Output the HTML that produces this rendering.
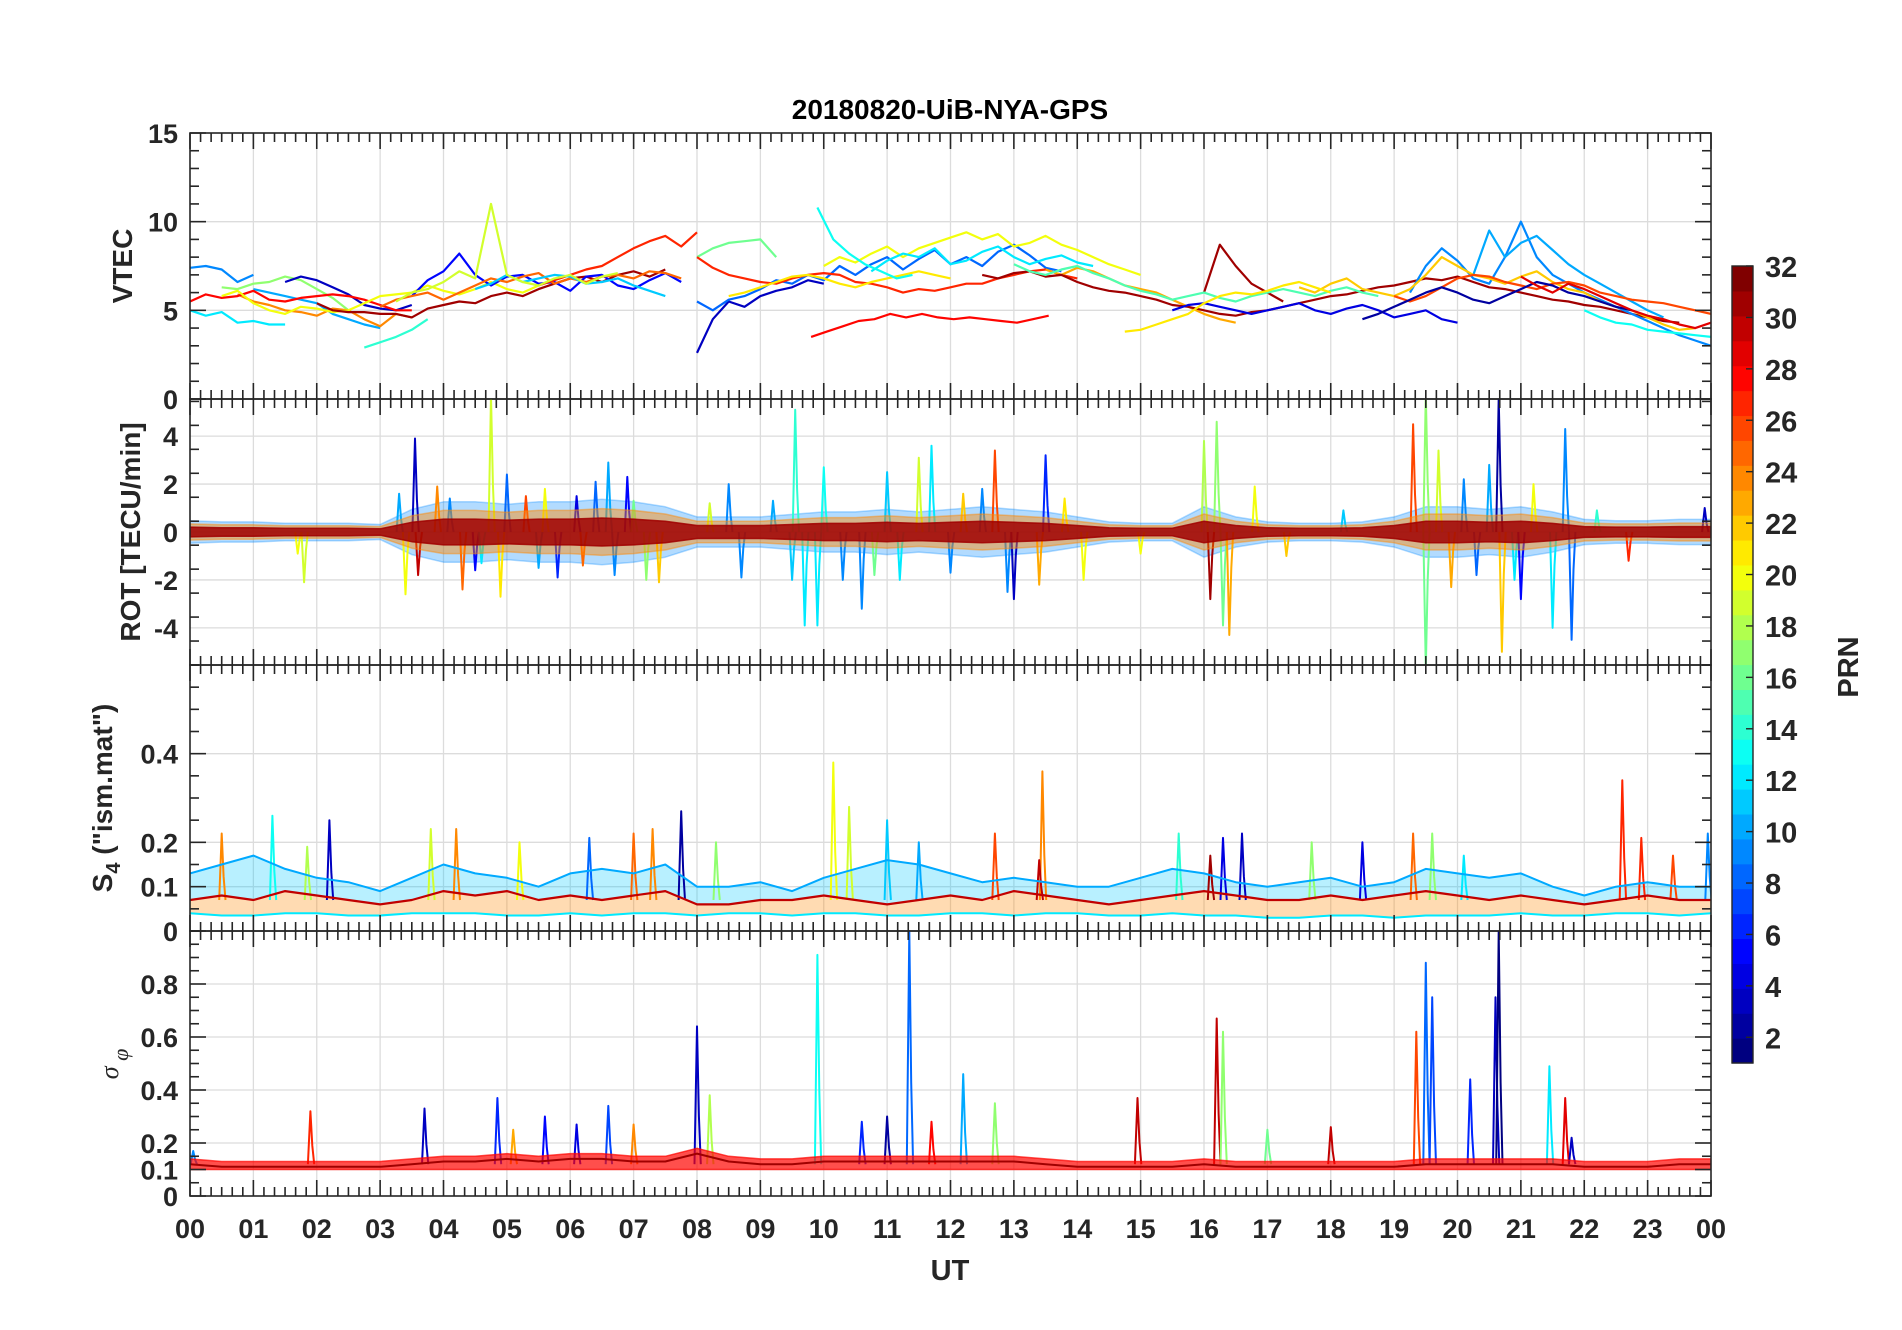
<!DOCTYPE html>
<html><head><meta charset="utf-8"><style>
html,body{margin:0;padding:0;background:#fff;}
svg{display:block;font-family:"Liberation Sans",Arial,sans-serif;}
</style></head><body>
<svg id="fig" width="1902" height="1330" viewBox="0 0 1902 1330" xmlns="http://www.w3.org/2000/svg">
<text x="950" y="119" text-anchor="middle" font-size="28" font-weight="bold" fill="#000">20180820-UiB-NYA-GPS</text>
<g id="panels"></g>
<text x="950" y="1280" text-anchor="middle" font-size="29" font-weight="bold" fill="#262626">UT</text>
<text transform="translate(132,266) rotate(-90)" text-anchor="middle" font-size="28" font-weight="bold" fill="#262626">VTEC</text>
<text transform="translate(140,532) rotate(-90)" text-anchor="middle" font-size="28" font-weight="bold" fill="#262626">ROT [TECU/min]</text>
<text transform="translate(112,798) rotate(-90)" text-anchor="middle" font-size="28" font-weight="bold" fill="#262626">S<tspan font-size="20" dy="8">4</tspan><tspan dy="-8"> ("ism.mat")</tspan></text>
<text transform="translate(118,1064) rotate(-90)" text-anchor="middle" font-size="26" font-style="italic" font-family="Liberation Serif,serif" fill="#262626">σ<tspan font-size="22" dy="10"> φ</tspan></text>
<g id="cbar"></g>
<text transform="translate(1858,667) rotate(-90)" text-anchor="middle" font-size="29" font-weight="bold" fill="#262626">PRN</text>
</svg>
<script>
// ---------- data ----------
const hourLabels = ["00","01","02","03","04","05","06","07","08","09","10","11","12","13","14","15","16","17","18","19","20","21","22","23","00"];
const vtecTicks = [0,5,10,15];
const rotTicks = [-4,-2,0,2,4];
const s4Ticks = [0,0.1,0.2,0.4];
const sigTicks = [0,0.1,0.2,0.4,0.6,0.8];
const cbarTicks = [2,4,6,8,10,12,14,16,18,20,22,24,26,28,30,32];

// VTEC series: [prn, startHour, values every 0.25 h]
const vtecSeries = [
 [9,0,[7.4,7.5,7.3,6.6,7.0]],
 [12,0,[5.0,4.7,4.9,4.3,4.4,4.2,4.2]],
 [17,0.5,[6.3,6.2,6.5,6.6,6.9,6.7,6.2,5.7,5.0]],
 [3,1.5,[6.6,6.9,6.7,6.3,5.9,5.3,5.1,5.0,5.3]],
 [10,1.0,[6.2,6.0,5.8,5.6,5.4,4.8,4.5,4.2,4.0]],
 [14,2.75,[2.9,3.2,3.5,3.9,4.5]],
 [24,0.75,[5.9,5.5,5.3,5.0,4.9,4.7,5.1,5.0,4.5,4.1,4.8,4.6]],
 [28,0,[5.5,5.9,5.7,5.8,6.1,5.6,5.5,5.7,5.8,5.9,5.8,5.6,5.3,5.0,5.0]],
 [20,0.5,[5.8,6.1,5.4,5.0,4.8,5.2,5.1,4.9,5.0,5.4,5.8,5.9,6.0,6.4,6.1,5.9,6.2,6.6,6.2,6.0,6.4]],
 [31,2.0,[5.4,5.0,4.9,4.9,4.8,4.8,4.6,5.1,5.3,5.5,5.4,5.8,6.0,5.8,6.2,6.5,6.8,6.9,6.6,7.0,7.2,6.9,7.3]],
 [5,3.5,[5.8,6.7,7.2,8.2,7.0,6.4,6.9,7.0,6.5,6.6,6.1,6.9,7.0,6.4,6.2,6.7,7.1,6.6]],
 [25,3.0,[5.2,5.6,5.8,6.0,5.6,6.0,6.4,6.8,6.6,6.9,7.1,6.5,6.8,6.6,6.9,7.0,6.8,7.2,7.1,6.8]],
 [27,5.5,[6.4,6.7,7.0,7.3,7.5,8.0,8.5,8.9,9.2,8.6,9.4]],
 [11,4.5,[6.2,6.5,7.0,6.6,6.8,7.0,6.9,6.5,6.6,6.8,6.4,6.1,5.8]],
 [19,3.25,[5.5,6.0,6.2,6.6,7.2,6.8,11.0,7.0,6.6,6.4,6.8,7.0,6.5,6.9,7.1]],
 [16,8.0,[8.0,8.5,8.8,8.9,9.0,8.0]],
 [3,8.0,[2.6,4.5,5.5,5.2,5.8,6.1,6.3,6.7,6.5]],
 [8,8.0,[5.5,5.0,5.6,5.8,6.2,6.7,6.5,7.0,6.7,7.5,7.0,7.6,8.0,7.3,7.9,8.4,7.6,8.0,7.5,8.3,8.7,8.1,7.4,7.2]],
 [27,8.0,[8.0,7.4,7.0,6.8,6.6,6.5,6.8,7.0,7.1,7.0,6.6,6.5,6.3,6.0,6.2,6.1,6.3,6.5,6.5,6.8,7.0,7.2,7.3,7.0,6.8]],
 [21,8.5,[5.8,6.0,6.3,6.6,6.9,7.0,6.8,6.5,6.3,6.6,6.8,7.0,7.2,7.0,6.8]],
 [28,9.8,[3.5,3.8,4.1,4.4,4.5,4.8,4.6,4.8,4.6,4.5,4.6,4.5,4.4,4.3,4.5,4.7]],
 [20,10.0,[7.5,8.0,7.7,8.2,8.6,8.0,8.5,8.8,9.1,9.4,9.0,9.3,8.6,8.8,9.2,8.7,8.4,8.0,7.6,7.3,7.0]],
 [12,10.75,[7.2,7.8,8.2,8.0,8.5,7.6,7.8,8.3,8.6,8.0,7.6,7.9,8.1,7.7,7.5]],
 [13,9.9,[10.8,9.0,8.2,7.6,7.2,6.8,7.0]],
 [23,13.5,[7.3,7.0,7.4,7.2,6.8,6.4,6.2,6.0,5.6,5.2,4.8,4.5,4.3]],
 [31,12.5,[7.0,6.8,7.1,7.2,6.9,7.0,6.6,6.3,6.1,6.0,5.8,5.6,5.3,5.2,5.0,4.8,4.7,4.9,5.0,5.2,5.4,5.6,5.8,5.9,6.1,6.3,6.4,6.6,6.8,6.7,6.9,6.6,6.3,6.2,6.0,5.8,5.6,5.5,5.3,5.2,5.0,4.8,4.6,4.4,4.3]],
 [31,16.0,[6.0,8.7,7.5,6.5,6.0,5.5]],
 [4,15.5,[5.0,5.3,5.4,5.2,5.0,4.8,5.0,5.2,5.4,5.0,4.8,5.1,5.3,5.0,4.6,4.8,5.0,4.5,4.3]],
 [15,13.0,[7.6,7.2,7.0,7.3,7.5,7.1,6.8,6.4,6.1,5.9,5.6,5.8,6.0,5.7,5.5,5.8,6.0,6.2,6.0,5.8,6.1,6.3,6.0,5.8]],
 [9,19.25,[6.0,7.5,8.5,7.8,6.8,6.5,8.0,10.0,8.0,7.0,6.5,6.0,5.6,5.2,4.8,4.4,4.0,3.6,3.3,3.0,3.2,3.5]],
 [10,20.25,[7.0,9.5,8.0,8.8,9.2,8.4,7.6,7.0,6.5,6.0,5.5,5.0,4.6]],
 [22,17.5,[6.3,6.0,6.5,6.8,6.2,6.0,5.8,6.2,7.0,8.0,7.5,7.0,6.8,6.5,6.9,7.2,6.6,6.2,6.0,5.5,5.2,5.0,4.6,4.2,3.9,4.0]],
 [26,19.0,[5.8,5.5,5.8,6.3,6.8,7.0,6.9,6.6,6.4,6.2,6.5,6.6,6.4,6.0,5.8,5.6,5.5,5.4,5.2,5.0,4.8,4.6,4.8,5.0,5.6,5.9]],
 [21,14.75,[3.8,3.9,4.2,4.5,4.8,5.4,5.8,6.0,5.9,6.1,6.4,6.6,6.3,6.0]],
 [2,18.5,[4.5,4.8,5.2,5.6,6.0,6.3,6.0,5.6,5.4,5.8,6.2,6.6,6.4,6.0,5.8,5.5,5.2,5.0]],
 [13,22.0,[5.0,4.6,4.3,4.2,3.9,3.8,3.7,3.6,3.5]],
 [29,21.0,[6.9,6.4,6.0,6.5,6.2,5.8,5.4,5.0,4.7,4.5,4.2,4.0,4.3,4.5]]
];

// ROT dense band half-amplitude every 0.5 h (00..24)
const rotAmp = [0.45,0.4,0.4,0.35,0.35,0.35,0.3,0.9,1.2,1.2,1.1,1.2,1.2,1.3,1.2,1.0,0.6,0.6,0.6,0.7,0.8,0.8,0.9,0.8,0.9,1.0,0.9,0.8,0.6,0.4,0.35,0.35,1.0,0.6,0.4,0.35,0.35,0.4,0.6,1.0,1.0,0.9,1.0,0.8,0.5,0.45,0.45,0.5,0.5];
// ROT spikes: [hour, value, prn]
const rotSpikes = [[1.7,-0.9,20],[1.8,-2.1,19],[3.3,1.6,10],[3.55,3.9,3],[3.6,-1.8,30],[3.4,-2.6,20],[3.9,1.9,24],[4.3,-2.4,25],[4.5,-1.6,5],[4.75,5.7,19],[4.9,-2.7,21],[5.0,2.4,8],[5.3,1.5,26],[5.6,1.8,20],[5.8,-1.9,6],[6.1,1.5,4],[6.4,2.1,8],[6.6,2.9,10],[6.7,-1.8,9],[6.9,2.3,5],[7.2,-2.0,17],[7.4,-2.1,22],[8.5,2.0,9],[8.7,-1.9,9],[9.5,-2.0,11],[9.55,5.1,14],[9.7,-3.9,12],[9.9,-3.9,12],[10.0,2.7,13],[10.6,-3.2,9],[11.0,2.5,11],[11.5,3.1,19],[11.7,3.6,12],[12.5,1.8,9],[12.7,3.4,26],[12.9,-2.5,9],[13.0,-2.8,3],[13.5,3.2,6],[13.4,-2.2,23],[14.1,-2.0,20],[16.0,3.8,18],[16.2,4.6,17],[16.3,-3.9,16],[16.4,-4.3,23],[16.1,-2.8,31],[16.8,1.9,20],[19.3,4.5,26],[19.5,5.8,17],[19.5,-5.7,16],[19.7,3.4,19],[19.9,-2.3,23],[20.1,2.2,9],[20.5,2.8,10],[20.65,5.6,2],[20.7,-5.0,22],[20.9,-2.0,12],[21.0,-2.8,5],[21.5,-4.0,12],[21.7,4.3,9],[21.8,-4.5,8],[22.7,-1.2,27],[23.9,1.0,3],
 [4.1,1.4,9],[4.6,-1.3,12],[5.5,-1.5,10],[6.2,-1.4,25],[7.0,1.3,16],[8.2,1.2,19],[9.2,1.3,10],[10.3,-2.0,9],[10.8,-1.8,16],[11.2,-2.0,12],[12.0,-1.7,9],[12.2,1.6,22],[13.8,1.4,21],[15.0,-0.9,20],[17.3,-1.0,22],[18.2,0.9,11],[20.3,-1.8,8],[21.2,2.0,20],[22.2,0.9,14]];

// S4 lines every 0.5 h (00..24)
const s4Upper = [0.13,0.15,0.17,0.14,0.12,0.11,0.09,0.12,0.15,0.13,0.12,0.10,0.13,0.14,0.13,0.15,0.10,0.10,0.11,0.09,0.12,0.14,0.16,0.15,0.13,0.11,0.12,0.11,0.10,0.10,0.12,0.14,0.13,0.11,0.10,0.11,0.12,0.10,0.11,0.14,0.13,0.12,0.13,0.10,0.08,0.10,0.11,0.10,0.10];
const s4Mid = [0.07,0.08,0.07,0.09,0.08,0.07,0.06,0.07,0.09,0.08,0.09,0.07,0.08,0.07,0.08,0.09,0.06,0.06,0.07,0.07,0.08,0.07,0.06,0.07,0.08,0.07,0.09,0.08,0.07,0.06,0.07,0.08,0.09,0.08,0.07,0.07,0.08,0.07,0.08,0.09,0.08,0.07,0.08,0.07,0.06,0.07,0.08,0.07,0.07];
const s4Low = [0.04,0.035,0.035,0.04,0.04,0.035,0.035,0.04,0.04,0.04,0.035,0.035,0.04,0.035,0.04,0.04,0.035,0.04,0.04,0.035,0.04,0.04,0.035,0.035,0.04,0.04,0.035,0.04,0.04,0.035,0.035,0.04,0.035,0.035,0.03,0.03,0.035,0.035,0.03,0.035,0.035,0.035,0.04,0.035,0.035,0.04,0.04,0.035,0.04];
// S4 spikes: [hour, peak, prn]
const s4Spikes = [[0.5,0.22,24],[1.3,0.26,13],[2.2,0.25,3],[1.85,0.19,18],[3.8,0.23,19],[4.2,0.23,24],[5.2,0.2,20],[6.3,0.21,8],[7.0,0.22,25],[7.3,0.23,24],[7.75,0.27,2],[8.3,0.2,17],[10.15,0.38,20],[10.4,0.28,19],[11.0,0.25,11],[11.5,0.2,10],[12.7,0.22,26],[13.45,0.36,24],[13.4,0.16,30],[15.6,0.22,14],[16.3,0.21,4],[16.6,0.22,3],[16.1,0.17,31],[17.7,0.2,17],[18.5,0.2,4],[19.3,0.22,25],[19.6,0.22,17],[20.1,0.17,12],[22.6,0.34,27],[22.9,0.21,27],[23.4,0.17,26],[23.95,0.22,9]];

// sigma-phi band top every 0.5 h and spikes
const sigTop = [0.14,0.13,0.13,0.13,0.13,0.13,0.13,0.14,0.15,0.15,0.16,0.15,0.16,0.16,0.15,0.15,0.18,0.15,0.14,0.14,0.15,0.15,0.15,0.15,0.15,0.15,0.15,0.14,0.13,0.13,0.13,0.13,0.14,0.13,0.13,0.13,0.13,0.13,0.13,0.14,0.14,0.14,0.14,0.14,0.13,0.13,0.13,0.14,0.14];
const sigLow = [0.1,0.1,0.1,0.1,0.1,0.1,0.1,0.1,0.1,0.1,0.1,0.1,0.1,0.1,0.1,0.1,0.1,0.1,0.1,0.1,0.1,0.1,0.1,0.1,0.1,0.1,0.1,0.1,0.1,0.1,0.1,0.1,0.1,0.1,0.1,0.1,0.1,0.1,0.1,0.1,0.1,0.1,0.1,0.1,0.1,0.1,0.1,0.1,0.1];
const sigSpikes = [[0.05,0.17,9],[1.9,0.32,27],[3.7,0.33,3],[4.85,0.37,6],[5.1,0.25,23],[5.6,0.3,5],[6.1,0.27,4],[6.6,0.34,7],[7.0,0.27,24],[8.0,0.64,3],[8.2,0.38,18],[9.9,0.91,13],[10.6,0.28,6],[11.0,0.3,2],[11.35,1.0,8],[11.7,0.28,28],[12.2,0.46,10],[12.7,0.35,17],[14.95,0.37,30],[16.2,0.67,30],[16.3,0.62,17],[17.0,0.25,16],[18.0,0.26,30],[19.35,0.62,26],[19.5,0.88,8],[19.6,0.75,7],[20.2,0.44,6],[20.6,0.75,3],[20.65,1.0,1],[21.45,0.49,12],[21.7,0.37,29],[21.8,0.22,3]];

// ---------- helpers ----------
const NS = "http://www.w3.org/2000/svg";
const L = 190, R = 1711;
const xs = h => L + (R - L) * h / 24;
function jet(v){ // v in 1..32
  const t = (v - 1) / 31;
  const r = Math.min(1, Math.max(0, 1.5 - Math.abs(4*t - 3)));
  const g = Math.min(1, Math.max(0, 1.5 - Math.abs(4*t - 2)));
  const b = Math.min(1, Math.max(0, 1.5 - Math.abs(4*t - 1)));
  return `rgb(${Math.round(r*255)},${Math.round(g*255)},${Math.round(b*255)})`;
}
function mk(tag, attrs, parent){
  const e = document.createElementNS(NS, tag);
  for (const k in attrs) e.setAttribute(k, attrs[k]);
  parent.appendChild(e); return e;
}
const panels = document.getElementById('panels');
const defs = mk('defs', {}, panels);

function makePanel(name, top, bot, y0, y1, ticks, minorStep, fmt){
  const ys = v => bot - (bot - top) * (v - y0) / (y1 - y0);
  const g = mk('g', {}, panels);
  
  
  const cp = mk('clipPath', {id: 'clip-' + name}, defs);
  mk('rect', {x: L, y: top, width: R - L, height: bot - top}, cp);
  const grid = mk('g', {stroke: '#dcdcdc', 'stroke-width': 1.3}, g);
  
  
  for (let h = 1; h < 24; h++) mk('line', {x1: xs(h), x2: xs(h), y1: top, y2: bot}, grid);
  ticks.forEach(t => { if (t !== y0) mk('line', {x1: L, x2: R, y1: ys(t), y2: ys(t)}, grid); });
  const data = mk('g', {'clip-path': `url(#clip-${name})`, fill: 'none', 'stroke-linejoin': 'round'}, g);
  
  
  const ax = mk('g', {stroke: '#262626', 'stroke-width': 1.6}, panels);
  
  
  mk('rect', {x: L, y: top, width: R - L, height: bot - top, fill: 'none'}, ax);
  for (let m = 0; m <= 144; m++) {
    const x = xs(m / 6), len = m % 6 === 0 ? 16 : 9;
    mk('line', {x1: x, x2: x, y1: bot, y2: bot - len}, ax);
    mk('line', {x1: x, x2: x, y1: top, y2: top + len}, ax);
  }
  for (let v = y0; v <= y1 + 1e-9; v += minorStep) {
    const major = ticks.some(t => Math.abs(t - v) < 1e-9);
    const len = major ? 16 : 9;
    mk('line', {x1: L, x2: L + len, y1: ys(v), y2: ys(v)}, ax);
    mk('line', {x1: R, x2: R - len, y1: ys(v), y2: ys(v)}, ax);
  }
  const lab = mk('g', {'font-size': 27, 'font-weight': 'bold', fill: '#262626', 'text-anchor': 'end'}, panels);
  
  
  ticks.forEach(t => {
    const tx = mk('text', {x: 178, y: ys(t) + 10}, lab);
    tx.textContent = fmt(t);
  });
  return {data, ys};
}
function polyline(parent, pts, color, w, nm){
  const p = mk('polyline', {points: pts.map(p => p[0].toFixed(1) + ',' + p[1].toFixed(1)).join(' '), stroke: color, 'stroke-width': w}, parent);
  
  
  return p;
}
function spike(parent, ys, base, s, w, nm){
  const [h, v, prn] = s;
  const pts = [[xs(h - 0.04), ys(base)], [xs(h), ys(v)], [xs(h + 0.03), ys(base + (v - base) * 0.35)], [xs(h + 0.06), ys(base)]];
  polyline(parent, pts, jet(prn), w, nm);
}
function band(parent, lo, hi, color, op, nm){
  const pts = [];
  for (let i = 0; i < hi.length; i++) pts.push([xs(i * 0.5), hi[i]]);
  for (let i = lo.length - 1; i >= 0; i--) pts.push([xs(i * 0.5), lo[i]]);
  const p = mk('polygon', {points: pts.map(p => p[0].toFixed(1) + ',' + p[1].toFixed(1)).join(' '), fill: color, 'fill-opacity': op, stroke: color, 'stroke-opacity': op, 'stroke-width': 1.5}, parent);
  
  
}

// ---------- VTEC ----------
const P1 = makePanel('vtec', 133, 399, 0, 15, vtecTicks, 1, t => String(t));
vtecSeries.forEach(([prn, t0, vals]) => {
  const pts = vals.map((v, i) => [xs(t0 + i * 0.25), P1.ys(v)]);
  polyline(P1.data, pts, jet(prn), 2.2, 'vtec-line-prn' + prn);
});

// ---------- ROT ----------
const P2 = makePanel('rot', 399, 665, -5.55, 5.55, rotTicks, 1, t => String(t));
band(P2.data, rotAmp.map(a => P2.ys(-a * 1.05)), rotAmp.map(a => P2.ys(a * 1.05)), jet(9), 0.3, 'rot-outer-band');
rotSpikes.forEach(s => spike(P2.data, P2.ys, 0, s, 2, 'rot-spike-prn' + s[2]));
band(P2.data, rotAmp.map(a => P2.ys(-a * 0.75)), rotAmp.map(a => P2.ys(a * 0.75)), jet(24), 0.45, 'rot-mid-band');
band(P2.data, rotAmp.map(a => P2.ys(-a * 0.45)), rotAmp.map(a => P2.ys(a * 0.45)), jet(31), 0.85, 'rot-inner-band');

// ---------- S4 ----------
const P3 = makePanel('s4', 665, 931, 0, 0.6, s4Ticks, 0.05, t => t === 0 ? '0' : String(t));
band(P3.data, s4Mid.map(P3.ys), s4Upper.map(P3.ys), jet(11), 0.28, 's4-upper-band');
band(P3.data, s4Low.map(P3.ys), s4Mid.map(P3.ys), jet(24), 0.3, 's4-lower-band');
s4Spikes.forEach(s => spike(P3.data, P3.ys, 0.07, s, 2, 's4-spike-prn' + s[2]));
polyline(P3.data, s4Upper.map((v, i) => [xs(i * 0.5), P3.ys(v)]), jet(10), 2, 's4-upper-line');
polyline(P3.data, s4Mid.map((v, i) => [xs(i * 0.5), P3.ys(v)]), jet(30), 2.2, 's4-mid-line');
polyline(P3.data, s4Low.map((v, i) => [xs(i * 0.5), P3.ys(v)]), jet(12), 2, 's4-low-line');

// ---------- sigma phi ----------
const P4 = makePanel('sigma', 931, 1196, 0, 1.0, sigTicks, 0.05, t => t === 0 ? '0' : String(t));
sigSpikes.forEach(s => spike(P4.data, P4.ys, 0.12, s, 2, 'sigma-spike-prn' + s[2]));
band(P4.data, sigLow.map(P4.ys), sigTop.map(P4.ys), jet(28), 0.7, 'sigma-band');
polyline(P4.data, sigTop.map((v, i) => [xs(i * 0.5), P4.ys(v - 0.02)]), jet(31), 2, 'sigma-line');

// x tick labels
const xl = mk('g', {'font-size': 27, 'font-weight': 'bold', fill: '#262626', 'text-anchor': 'middle'}, panels);


hourLabels.forEach((s, i) => { const t = mk('text', {x: xs(i), y: 1238}, xl); t.textContent = s; });

// ---------- colorbar ----------
const cb = document.getElementById('cbar');
const cbTop = 266, cbBot = 1063, cbL = 1732, cbW = 21;
const cys = v => cbBot - (cbBot - cbTop) * (v - 1) / 31;
for (let k = 1; k <= 32; k++) {
  const y1 = cbBot - (cbBot - cbTop) * k / 32, y0 = cbBot - (cbBot - cbTop) * (k - 1) / 32;
  const r = mk('rect', {x: cbL, y: y1, width: cbW, height: y0 - y1 + 0.6, fill: jet(k)}, cb);
  
  
}
mk('rect', {x: cbL, y: cbTop, width: cbW, height: cbBot - cbTop, fill: 'none', stroke: '#262626', 'stroke-width': 1.4}, cb);
cbarTicks.forEach(t => {
  mk('line', {x1: cbL + cbW - 7, x2: cbL + cbW, y1: cys(t), y2: cys(t), stroke: '#262626', 'stroke-width': 1.4}, cb);
  const tx = mk('text', {x: cbL + cbW + 12, y: cys(t) + 11, 'font-size': 29, 'font-weight': 'bold', fill: '#262626'}, cb);
  
  
  tx.textContent = String(t);
});
</script>
</body></html>
